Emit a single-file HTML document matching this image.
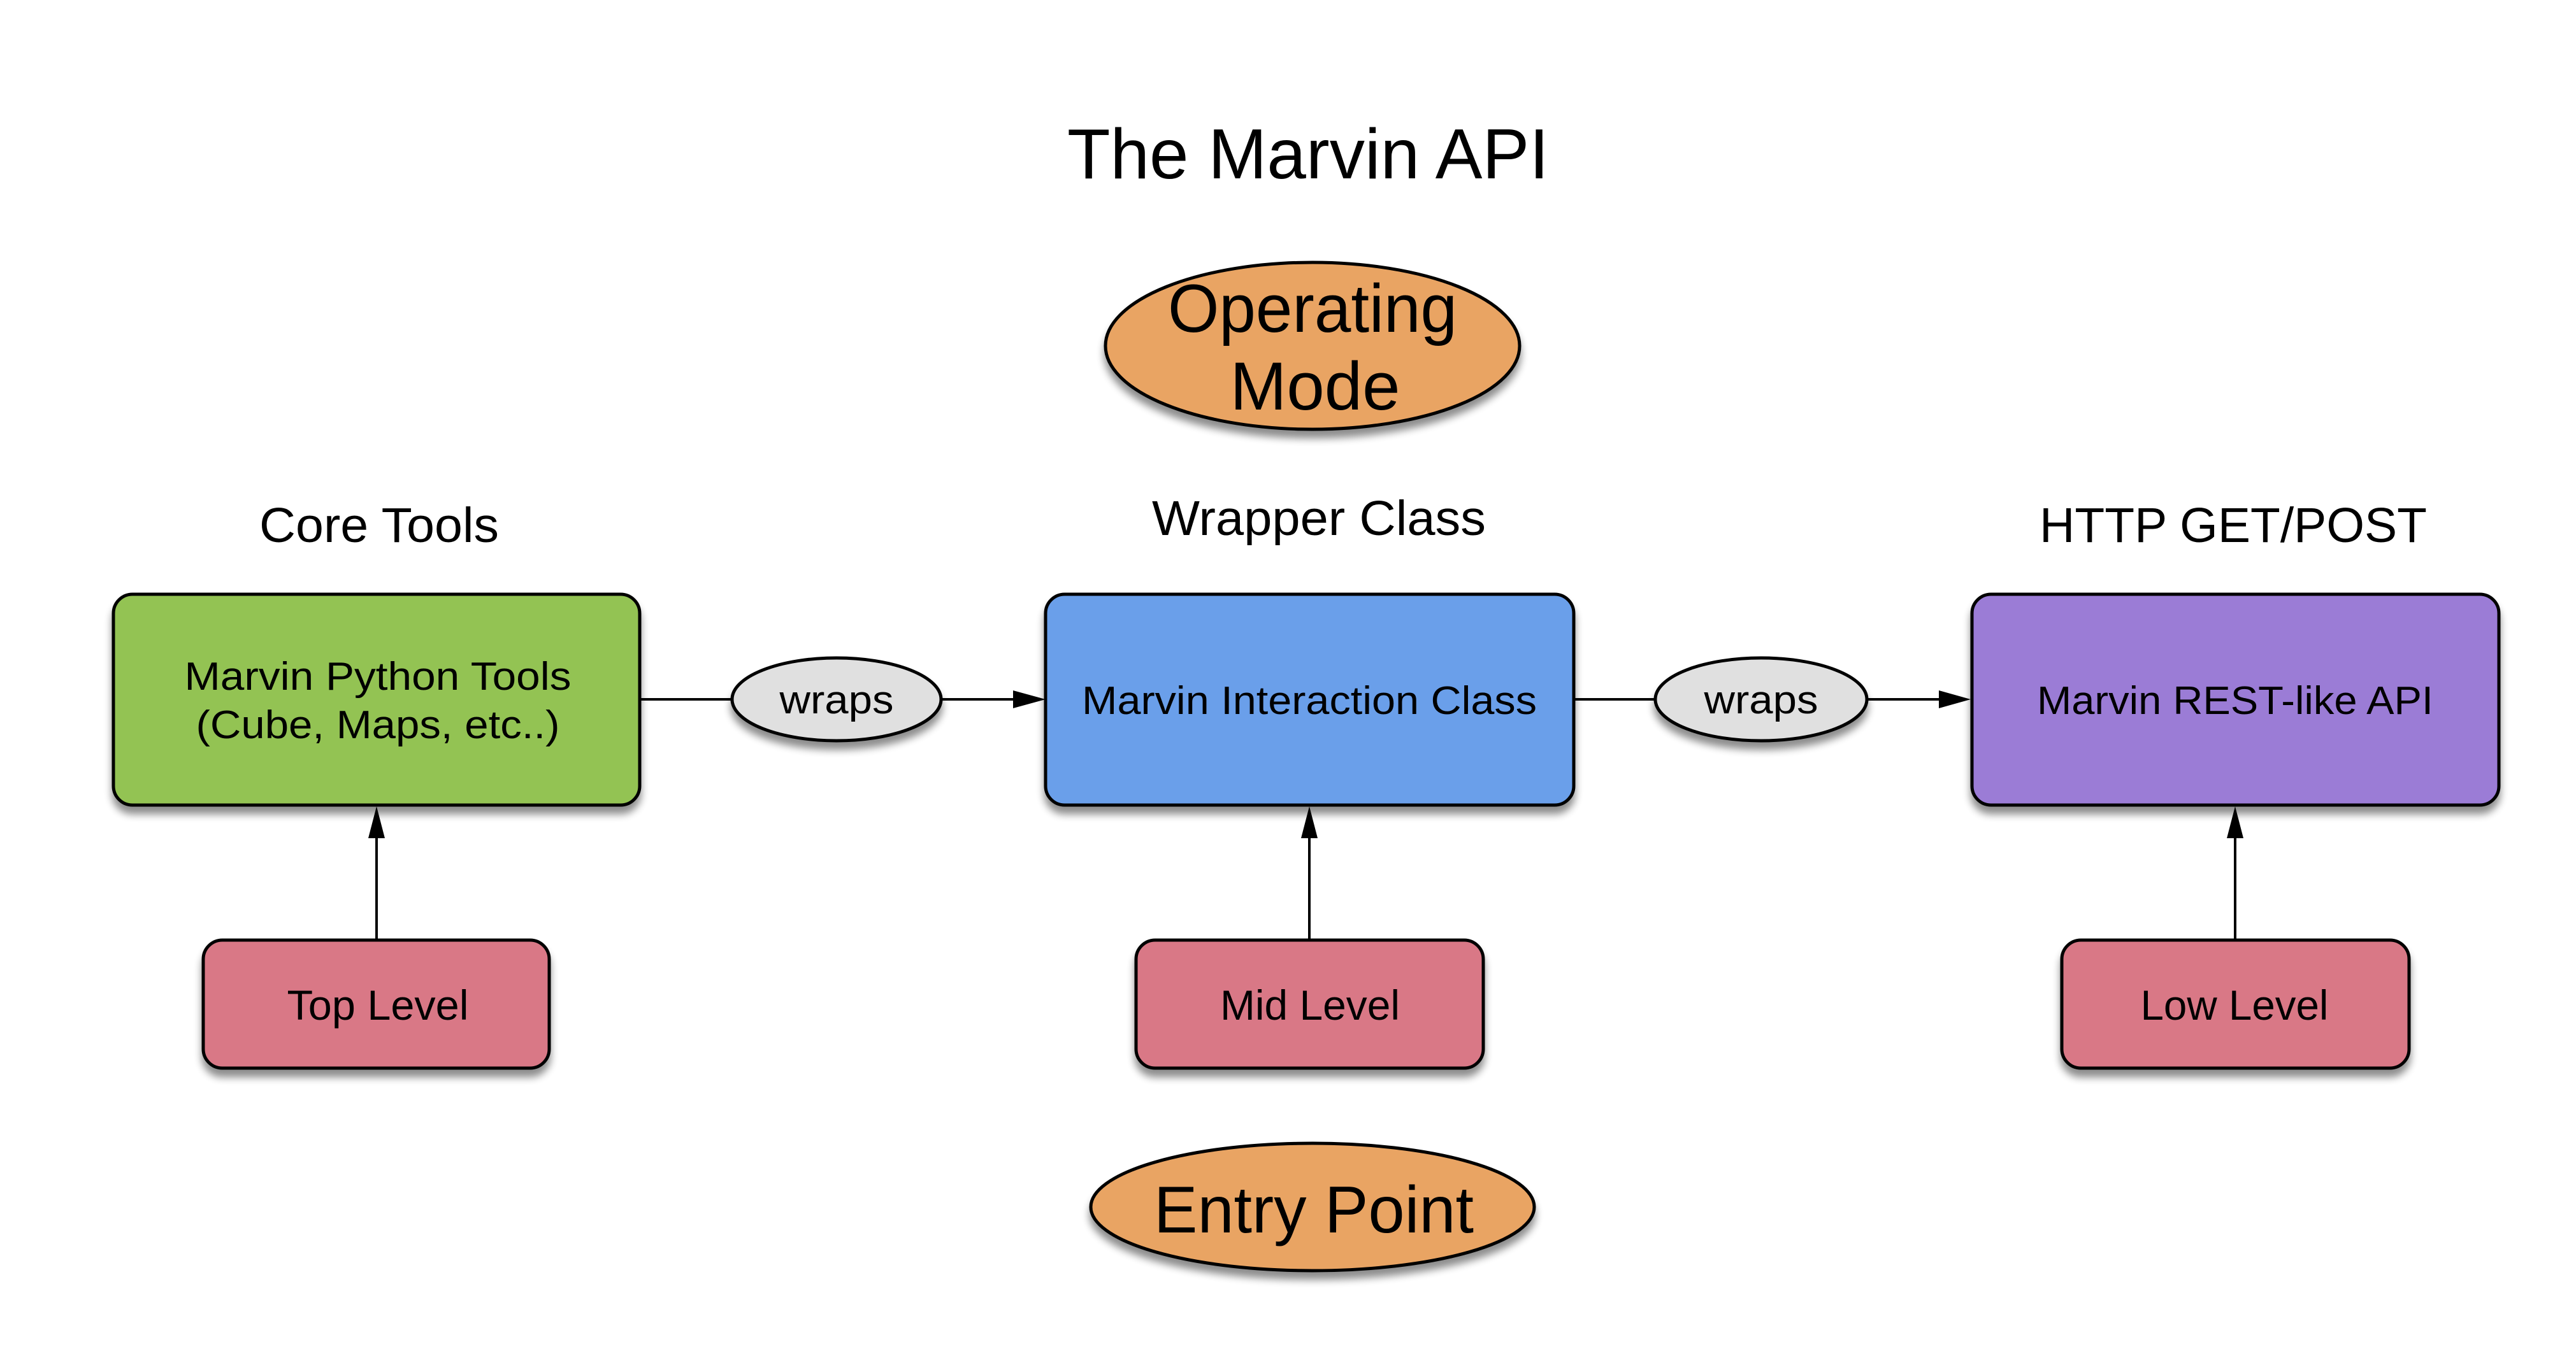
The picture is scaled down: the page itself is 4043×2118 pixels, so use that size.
<!DOCTYPE html>
<html><head><meta charset="utf-8"><style>
html,body{margin:0;padding:0;background:#fff;}
svg{display:block;}
text{font-family:"Liberation Sans",Arial,sans-serif;fill:#000;}
</style></head><body>
<svg width="4043" height="2118" viewBox="0 0 4043 2118" xmlns="http://www.w3.org/2000/svg">
<defs>
<filter id="sh" x="-10%" y="-10%" width="120%" height="130%">
<feGaussianBlur in="SourceAlpha" stdDeviation="6"/>
<feOffset dx="0" dy="12" result="b"/>
<feComponentTransfer><feFuncA type="linear" slope="0.45"/></feComponentTransfer>
<feMerge><feMergeNode/><feMergeNode in="SourceGraphic"/></feMerge>
</filter>
</defs>
<rect width="4043" height="2118" fill="#fff"/>

<text x="2053" y="280" font-size="111" text-anchor="middle" textLength="756" lengthAdjust="spacingAndGlyphs">The Marvin API</text>

<ellipse cx="2060" cy="543" rx="325" ry="131" fill="#e9a464" stroke="#000" stroke-width="5" filter="url(#sh)"/>
<text x="2060" y="521" font-size="107" text-anchor="middle" textLength="454" lengthAdjust="spacingAndGlyphs">Operating</text>
<text x="2064" y="643" font-size="107" text-anchor="middle" textLength="267" lengthAdjust="spacingAndGlyphs">Mode</text>

<text x="595" y="851" font-size="77" text-anchor="middle" textLength="376" lengthAdjust="spacingAndGlyphs">Core Tools</text>
<text x="2070" y="840" font-size="77" text-anchor="middle" textLength="524" lengthAdjust="spacingAndGlyphs">Wrapper Class</text>
<text x="3505" y="851" font-size="77" text-anchor="middle" textLength="608" lengthAdjust="spacingAndGlyphs">HTTP GET/POST</text>

<g stroke="#000" stroke-width="4" fill="none">
<line x1="1004" y1="1098" x2="1149" y2="1098"/>
<line x1="1478" y1="1098" x2="1595" y2="1098"/>
<line x1="2470" y1="1098" x2="2598" y2="1098"/>
<line x1="2930" y1="1098" x2="3050" y2="1098"/>
<line x1="591" y1="1476" x2="591" y2="1310"/>
<line x1="2055" y1="1476" x2="2055" y2="1310"/>
<line x1="3508" y1="1476" x2="3508" y2="1310"/>
</g>
<g fill="#000">
<polygon points="1641,1098 1590,1084 1590,1112"/>
<polygon points="3093,1098 3043,1084 3043,1112"/>
<polygon points="591,1266 578,1316 604,1316"/>
<polygon points="2055,1266 2042,1316 2068,1316"/>
<polygon points="3508,1266 3495,1316 3521,1316"/>
</g>

<rect x="178" y="933" width="826" height="331" rx="30" fill="#93c353" stroke="#000" stroke-width="5" filter="url(#sh)"/>
<rect x="1641" y="933" width="829" height="331" rx="30" fill="#6a9fea" stroke="#000" stroke-width="5" filter="url(#sh)"/>
<rect x="3095" y="933" width="827" height="331" rx="30" fill="#9b7bd6" stroke="#000" stroke-width="5" filter="url(#sh)"/>
<text x="593" y="1083" font-size="62" text-anchor="middle" textLength="607" lengthAdjust="spacingAndGlyphs">Marvin Python Tools</text>
<text x="593" y="1159" font-size="62" text-anchor="middle" textLength="571" lengthAdjust="spacingAndGlyphs">(Cube, Maps, etc..)</text>
<text x="2055" y="1121" font-size="62" text-anchor="middle" textLength="714" lengthAdjust="spacingAndGlyphs">Marvin Interaction Class</text>
<text x="3508" y="1121" font-size="62" text-anchor="middle" textLength="622" lengthAdjust="spacingAndGlyphs">Marvin REST-like API</text>

<ellipse cx="1313" cy="1098" rx="164" ry="65" fill="#e0e0e0" stroke="#000" stroke-width="5" filter="url(#sh)"/>
<text x="1313" y="1120" font-size="62" text-anchor="middle" textLength="179" lengthAdjust="spacingAndGlyphs">wraps</text>
<ellipse cx="2764" cy="1098" rx="166" ry="65" fill="#e0e0e0" stroke="#000" stroke-width="5" filter="url(#sh)"/>
<text x="2764" y="1120" font-size="62" text-anchor="middle" textLength="179" lengthAdjust="spacingAndGlyphs">wraps</text>

<rect x="319" y="1476" width="543" height="201" rx="30" fill="#d97886" stroke="#000" stroke-width="5" filter="url(#sh)"/>
<rect x="1783" y="1476" width="545" height="201" rx="30" fill="#d97886" stroke="#000" stroke-width="5" filter="url(#sh)"/>
<rect x="3236" y="1476" width="545" height="201" rx="30" fill="#d97886" stroke="#000" stroke-width="5" filter="url(#sh)"/>
<text x="593" y="1601" font-size="66" text-anchor="middle" textLength="285" lengthAdjust="spacingAndGlyphs">Top Level</text>
<text x="2056" y="1601" font-size="66" text-anchor="middle" textLength="282" lengthAdjust="spacingAndGlyphs">Mid Level</text>
<text x="3507" y="1601" font-size="66" text-anchor="middle" textLength="295" lengthAdjust="spacingAndGlyphs">Low Level</text>

<ellipse cx="2060" cy="1895" rx="348" ry="100" fill="#e9a464" stroke="#000" stroke-width="5" filter="url(#sh)"/>
<text x="2062" y="1935" font-size="104" text-anchor="middle" textLength="502" lengthAdjust="spacingAndGlyphs">Entry Point</text>
</svg>
</body></html>
